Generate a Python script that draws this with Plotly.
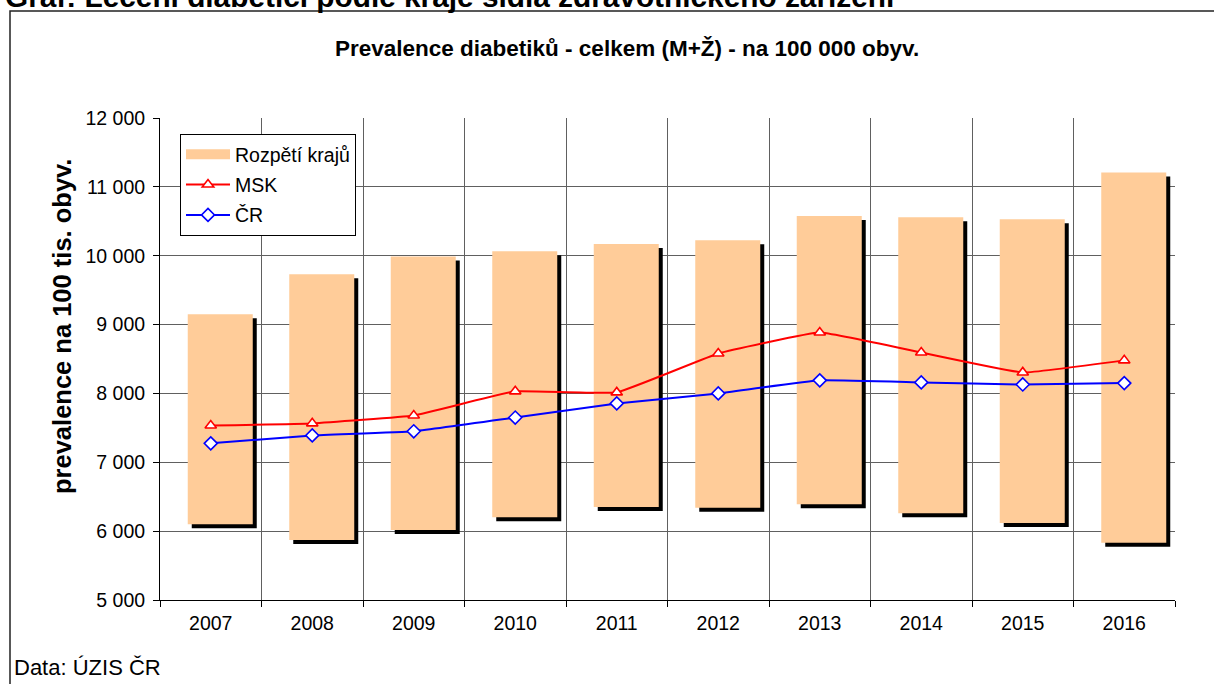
import plotly.graph_objects as go

years = ["2007", "2008", "2009", "2010", "2011", "2012", "2013", "2014", "2015", "2016"]
range_min = [6100, 5870, 6015, 6200, 6350, 6340, 6390, 6260, 6120, 5830]
range_max = [9150, 9730, 9990, 10065, 10170, 10225, 10575, 10560, 10530, 11210]
msk = [7535, 7565, 7680, 8030, 8015, 8580, 8885, 8595, 8305, 8480]
cr = [7275, 7390, 7450, 7650, 7855, 8000, 8190, 8160, 8130, 8150]

FONT = "Liberation Sans, Arial, sans-serif"
ORANGE = "#FFCC99"

# plot area geometry (pixels)
L, R, T, B = 160, 1175, 118, 600
W, H = R - L, B - T


def px(x):
    return (x - L) / W


def py(y):
    return (B - y) / H


units_per_px = (12000 - 5000) / H
shadow_dy = 4 * units_per_px
bar_offset = -23 / 101.5
bar_width = 65 / 101.5
shadow_dx = 4 / 101.5

heights = [mx - mn for mn, mx in zip(range_min, range_max)]

fig = go.Figure()

# shadow of range bars
fig.add_trace(go.Bar(
    x=years, y=heights, base=[m - shadow_dy for m in range_min],
    offset=bar_offset + shadow_dx, width=bar_width,
    marker=dict(color="black", line=dict(width=0)),
    showlegend=False, hoverinfo="skip",
))
# range bars
fig.add_trace(go.Bar(
    x=years, y=heights, base=range_min,
    offset=bar_offset, width=bar_width,
    marker=dict(color=ORANGE, line=dict(width=0)),
    name="Rozpětí krajů", legendgroup="a", showlegend=False,
))
# legend entry for the range bars (wide patch like the original)
fig.add_trace(go.Scatter(
    x=[None], y=[None], mode="lines", name="Rozpětí krajů", legendgroup="a",
    line=dict(color=ORANGE, width=10),
))
fig.add_trace(go.Scatter(
    x=years, y=msk, mode="lines+markers", name="MSK", legendgroup="b",
    line=dict(color="#FF0000", width=2, shape="spline", smoothing=0.3),
    marker=dict(symbol="triangle-up", size=10, color="white",
                line=dict(color="#FF0000", width=1.6)),
))
fig.add_trace(go.Scatter(
    x=years, y=cr, mode="lines+markers", name="ČR", legendgroup="c",
    line=dict(color="#0000FF", width=2, shape="spline", smoothing=0.3),
    marker=dict(symbol="diamond", size=10, color="white",
                line=dict(color="#0000FF", width=1.6)),
))

annotations = [
    dict(text="<b>Prevalence diabetiků - celkem (M+Ž) - na 100 000 obyv.</b>",
         x=px(627), y=py(48), xanchor="center", yanchor="middle",
         font=dict(size=22.5, color="black")),
    dict(text="<b>prevalence na 100 tis. obyv.</b>", textangle=-90,
         x=px(62), y=py(327), xanchor="center", yanchor="middle",
         font=dict(size=25.5, color="black")),
    dict(text="Data: ÚZIS ČR", x=px(12), y=py(667), xanchor="left", yanchor="middle",
         font=dict(size=22, color="black")),
    dict(text="<b>Graf: Léčení diabetici podle kraje sídla zdravotnického zařízení</b>",
         x=px(3), y=py(-4), xanchor="left", yanchor="middle",
         font=dict(size=29.8, color="black")),
]
for a in annotations:
    a.update(xref="paper", yref="paper", showarrow=False)

fig.update_layout(
    width=1214, height=684,
    margin=dict(l=L, r=1214 - R, t=T, b=684 - B, pad=0),
    paper_bgcolor="white", plot_bgcolor="white",
    font=dict(family=FONT, size=19, color="black"),
    barmode="overlay",
    separators=", ",
    showlegend=True,
    legend=dict(x=px(180), y=py(134), xanchor="left", yanchor="top",
                bgcolor="white", bordercolor="black", borderwidth=1,
                font=dict(size=19.5), tracegroupgap=2, itemwidth=44),
    annotations=annotations,
    shapes=[dict(type="rect", xref="paper", yref="paper",
                 x0=px(10), x1=px(1225), y0=py(700), y1=py(11),
                 line=dict(color="#222222", width=1.5), layer="below")],
)
fig.update_xaxes(
    type="category", range=[-0.5, 9.5], tickson="boundaries",
    ticks="outside", ticklen=6, tickcolor="black",
    showgrid=True, gridcolor="#606060", gridwidth=1,
    showline=True, linecolor="black", linewidth=1,
    tickfont=dict(size=19.5), ticklabelstandoff=6,
)
fig.update_yaxes(
    range=[5000, 12000], dtick=1000, tick0=5000, tickformat=",d",
    ticks="outside", ticklen=6, tickcolor="black",
    showgrid=True, gridcolor="#606060", gridwidth=1,
    showline=True, linecolor="black", linewidth=1,
    tickfont=dict(size=19.5), ticklabelstandoff=4, zeroline=False,
)

fig.write_html("out.html", config={"displayModeBar": False},
               post_script="document.body.style.margin='0px';document.body.style.overflow='hidden';")
